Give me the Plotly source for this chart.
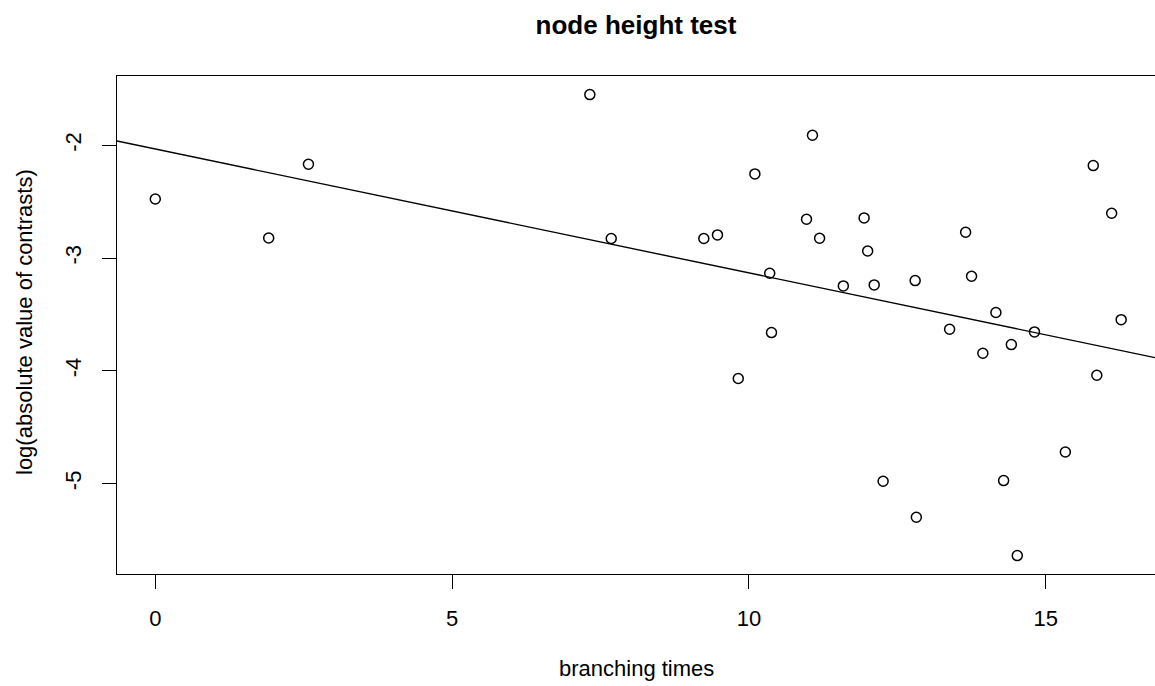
import numpy as np
import plotly.graph_objects as go

# data: branching times vs log(|contrasts|)
branching_times = [0.00, 1.91, 2.58, 7.32, 7.68, 9.24, 9.47, 10.10, 10.35, 10.38,
                   9.82, 11.07, 10.97, 11.19, 11.59, 11.94, 12.00, 12.11, 12.26, 12.80,
                   12.82, 13.38, 13.65, 13.75, 13.94, 14.16, 14.29, 14.42, 14.52, 14.81,
                   15.33, 15.80, 15.86, 16.11, 16.27]
log_abs_contrasts = [-2.476, -2.822, -2.168, -1.551, -2.827, -2.827, -2.795, -2.254, -3.135, -3.661,
                     -4.068, -1.911, -2.656, -2.824, -3.247, -2.644, -2.937, -3.238, -4.979, -3.200,
                     -5.298, -3.631, -2.771, -3.161, -3.844, -3.483, -4.973, -3.767, -5.638, -3.655,
                     -4.719, -2.180, -4.039, -2.603, -3.546]

x_ticks = [0, 5, 10, 15]
x_tick_labels = ["0", "5", "10", "15"]
y_ticks = [-2, -3, -4, -5]
y_tick_labels = ["-2", "-3", "-4", "-5"]

X_RANGE = [-0.645, 16.84]
Y_RANGE = [-5.801, -1.386]

slope, intercept = np.polyfit(branching_times, log_abs_contrasts, 1)
fit_x = np.array(X_RANGE)
fit_y = intercept + slope * fit_x

FONT = "Liberation Sans, Arial, Helvetica, sans-serif"

fig = go.Figure()
fig.add_trace(go.Scatter(
    x=branching_times, y=log_abs_contrasts, mode="markers",
    marker=dict(symbol="circle-open", size=10, color="black", line=dict(width=1.5, color="black")),
    showlegend=False, cliponaxis=True))
fig.add_trace(go.Scatter(
    x=fit_x, y=fit_y, mode="lines", line=dict(color="black", width=1.4),
    showlegend=False))

fig.update_layout(
    width=1155, height=686,
    margin=dict(l=117, r=0, t=76, b=112),
    paper_bgcolor="white", plot_bgcolor="white",
    font=dict(family=FONT, size=22, color="black"),
    title=dict(text="<b>node height test</b>", x=0.5, xref="paper", xanchor="center",
               y=1 - 25 / 686, yref="container", yanchor="middle",
               font=dict(family=FONT, size=26, color="black")),
    xaxis=dict(range=X_RANGE, tickmode="array", tickvals=x_ticks, ticktext=x_tick_labels,
               showgrid=False, zeroline=False, showline=True, mirror=True,
               linecolor="black", linewidth=1.3, ticks="outside", ticklen=14,
               tickwidth=1.3, tickcolor="black", ticklabelstandoff=10,
               tickfont=dict(family=FONT, size=22, color="black")),
    yaxis=dict(range=Y_RANGE, tickmode="array", tickvals=y_ticks, ticktext=y_tick_labels,
               showgrid=False, zeroline=False, showline=True, mirror=False,
               linecolor="black", linewidth=1.3, ticks="outside", ticklen=14,
               tickwidth=1.3, tickcolor="black", tickangle=-90, ticklabelstandoff=12,
               tickfont=dict(family=FONT, size=22, color="black")),
    annotations=[
        dict(text="branching times", xref="paper", yref="paper", x=0.5, y=0,
             xanchor="center", yanchor="middle", yshift=-94, showarrow=False,
             font=dict(family=FONT, size=22, color="black")),
        dict(text="log(absolute value of contrasts)", xref="paper", yref="paper",
             x=0, y=0.506, xanchor="center", yanchor="middle", xshift=-93,
             textangle=-90, showarrow=False,
             font=dict(family=FONT, size=22, color="black")),
    ],
)

fig.write_html("out.html")
